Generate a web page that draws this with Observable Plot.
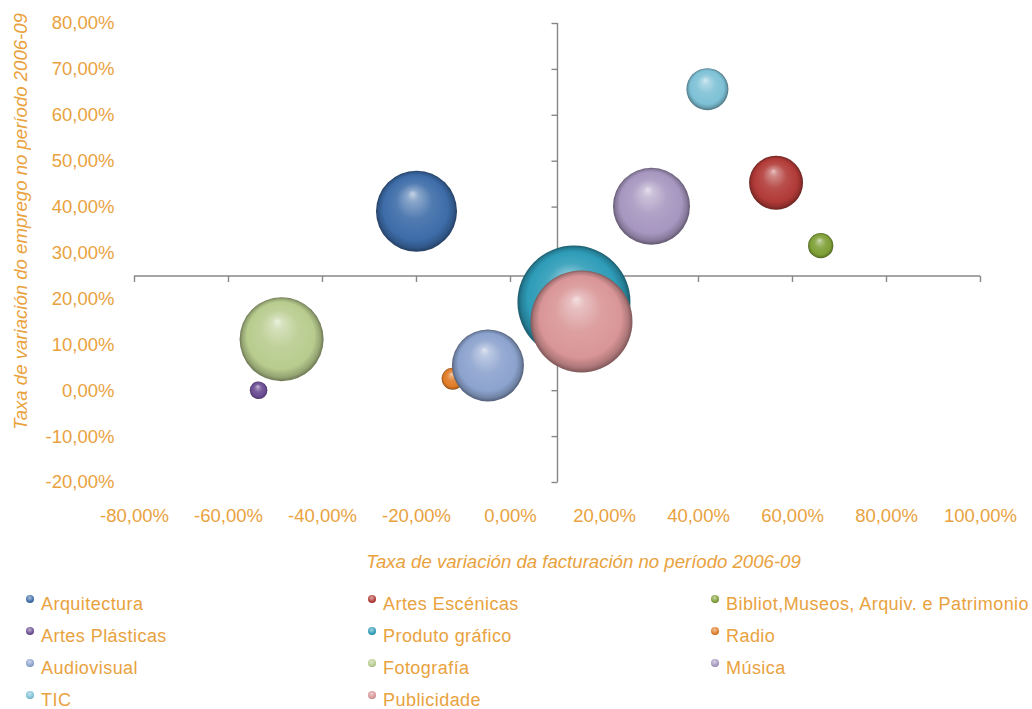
<!DOCTYPE html>
<html>
<head>
<meta charset="utf-8">
<script src="https://cdn.jsdelivr.net/npm/d3@7"></script>
<script src="https://cdn.jsdelivr.net/npm/@observablehq/plot@0.6"></script>
<style>
  html, body { margin: 0; padding: 0; background: #fff; }
  #chart { width: 1032px; }
  .legend {
    display: grid;
    grid-template-columns: 342px 343px auto;
    padding-left: 26px;
    padding-top: 3px;
    font-family: "Liberation Sans", Arial, sans-serif;
    font-size: 18px;
    line-height: 18px;
    letter-spacing: 0.45px;
    color: #E9A23E;
  }
  .legend .item { height: 32px; display: flex; align-items: center; white-space: nowrap; }
  .legend .sw { width: 8px; height: 8px; border-radius: 50%; margin-right: 7px; position: relative; top: -5px; flex: none; }
</style>
</head>
<body>
<div id="chart"></div>
<script>
// ---- data ----
const series = ["Arquitectura", "Artes Escénicas", "Bibliot,Museos, Arquiv. e Patrimonio", "Artes Plásticas", "Produto gráfico", "Radio", "Audiovisual", "Fotografía", "Música", "TIC", "Publicidade"];
const turnoverGrowth = [-20.0, 56.5, 66.0, -53.6, 13.5, -12.3, -4.8, -48.7, 30.0, 41.9, 15.1];
const employmentGrowth = [39.1, 45.3, 31.6, 0.1, 19.3, 2.6, 5.5, 11.2, 40.2, 65.7, 15.1];
const bubbleSize = [51.4, 22.8, 5.0, 2.4, 100, 3.8, 40.6, 55.3, 46.4, 13.8, 81.5];
const colors = ["#3D6CA8", "#B13A37", "#7E9F36", "#6A4B92", "#2E9CB8", "#E07B24", "#8CA3CE", "#B8CC8E", "#A797C0", "#7EC1D6", "#D99597"];
const xTicks = [-80, -60, -40, -20, 0, 20, 40, 60, 80, 100];
const yTicks = [-20, -10, 0, 10, 20, 30, 40, 50, 60, 70, 80];
const hAxisAt = 25;   // horizontal axis crosses the vertical one at y = 25 %
const vAxisAt = 10;   // vertical axis crosses the horizontal one at x = 10 %
const xTitle = "Taxa de variación da facturación no período 2006-09";
const yTitle = "Taxa de variación do emprego no período 2006-09";

const textColor = "#E9A23E";
const axisGray = "#878787";

const rows = series.map((s, i) => ({
  name: s, x: turnoverGrowth[i], y: employmentGrowth[i], size: bubbleSize[i], fill: `url(#bub${i})`
}));

const fmt = d => d.toFixed(2).replace(".", ",") + "%";

const tickDown = { draw(ctx) { ctx.moveTo(0, 0); ctx.lineTo(0, 6); } };
const tickLeft = { draw(ctx) { ctx.moveTo(0, 0); ctx.lineTo(-6, 0); } };

const svg = Plot.plot({
  width: 1032,
  height: 585,
  marginLeft: 134,
  marginRight: 52,
  marginTop: 23,
  marginBottom: 103,
  style: { fontFamily: "'Liberation Sans', Arial, sans-serif", fontSize: "18.5px", color: textColor, background: "#fff" },
  x: { domain: [xTicks[0], xTicks[xTicks.length - 1]] },
  y: { domain: [yTicks[0], yTicks[yTicks.length - 1]] },
  r: { type: "sqrt", domain: [0, d3.max(bubbleSize)], range: [0, 56.5] },
  color: { type: "identity" },
  marks: [
    Plot.axisX(xTicks, { tickSize: 0, tickPadding: 26, tickFormat: fmt, label: null, fill: textColor }),
    Plot.axisY(yTicks, { tickSize: 0, tickPadding: 20, tickFormat: fmt, label: null, fill: textColor }),
    Plot.ruleY([hAxisAt], { x1: xTicks[0], x2: xTicks[xTicks.length - 1], stroke: axisGray, strokeWidth: 1.4 }),
    Plot.ruleX([vAxisAt], { y1: yTicks[0], y2: yTicks[yTicks.length - 1], stroke: axisGray, strokeWidth: 1.4 }),
    Plot.dot(xTicks, { x: d => d, y: hAxisAt, symbol: tickDown, r: 3, stroke: axisGray, strokeWidth: 1.4, fill: "none" }),
    Plot.dot(yTicks, { x: vAxisAt, y: d => d, symbol: tickLeft, r: 3, stroke: axisGray, strokeWidth: 1.4, fill: "none" }),
    Plot.dot(rows, { x: "x", y: "y", r: "size", fill: "fill", sort: null, stroke: "none" }),
    Plot.text([xTitle], { text: d => d, frameAnchor: "bottom", textAnchor: "middle", dx: 26, dy: 85, fill: textColor, fontSize: 18.6, fontStyle: "italic" }),
    Plot.text([yTitle], { text: d => d, frameAnchor: "left", textAnchor: "middle", lineAnchor: "middle", dx: -113, dy: -31.5, rotate: -90, fill: textColor, fontSize: 18.6, fontStyle: "italic" })
  ]
});

// 3D sphere gradients
const defs = d3.select(svg).insert("defs", ":first-child");
colors.forEach((c, i) => {
  const base = d3.color(c);
  const g = defs.append("radialGradient").attr("id", `bub${i}`)
    .attr("cx", 0.5).attr("cy", 0.5).attr("r", 0.5).attr("fx", 0.45).attr("fy", 0.28);
  g.append("stop").attr("offset", 0).attr("stop-color", d3.interpolateRgb(c, "#fff")(0.7));
  g.append("stop").attr("offset", 0.14).attr("stop-color", d3.interpolateRgb(c, "#fff")(0.4));
  g.append("stop").attr("offset", 0.45).attr("stop-color", d3.interpolateRgb(c, "#fff")(0.1));
  g.append("stop").attr("offset", 0.8).attr("stop-color", c);
  g.append("stop").attr("offset", 0.93).attr("stop-color", base.darker(0.6).formatHex());
  g.append("stop").attr("offset", 1).attr("stop-color", base.darker(1.5).formatHex());
});

document.getElementById("chart").appendChild(svg);

// legend (3 columns, row-major like the original)
const legend = d3.select("#chart").append("div").attr("class", "legend");
series.forEach((s, i) => {
  const c = colors[i];
  const item = legend.append("div").attr("class", "item");
  item.append("span").attr("class", "sw")
    .style("background", `radial-gradient(circle at 45% 35%, ${d3.interpolateRgb(c, "#fff")(0.55)} 0%, ${c} 60%, ${d3.color(c).darker(1.2).formatHex()} 100%)`);
  item.append("span").text(s);
});
</script>
</body>
</html>
